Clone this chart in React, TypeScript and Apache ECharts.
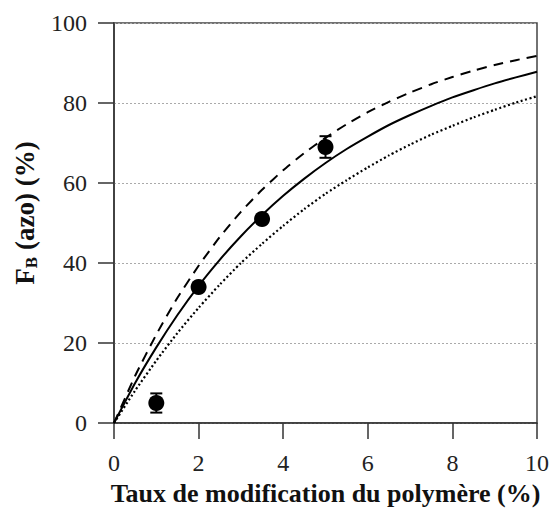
import React, { useEffect, useRef } from "react";
import * as echarts from "echarts";

const xCurve = [0, 0.5, 1, 1.5, 2, 2.5, 3, 3.5, 4, 4.5, 5, 5.5, 6, 6.5, 7, 7.5, 8, 8.5, 9, 9.5, 10];
const solidCurve = [0, 10.0, 18.9, 27.0, 34.3, 40.8, 46.7, 52.0, 56.8, 61.1, 65.0, 68.5, 71.6, 74.5, 77.0, 79.3, 81.4, 83.2, 84.9, 86.4, 87.8];
const dashedCurve = [0, 11.8, 22.1, 31.3, 39.3, 46.5, 52.8, 58.3, 63.2, 67.5, 71.3, 74.7, 77.7, 80.3, 82.6, 84.7, 86.5, 88.1, 89.5, 90.7, 91.8];
const dottedCurve = [0, 8.1, 15.6, 22.5, 28.8, 34.6, 40.0, 44.8, 49.3, 53.5, 57.3, 60.7, 63.9, 66.9, 69.6, 72.1, 74.3, 76.4, 78.3, 80.1, 81.7];

const xPoints = [1, 2, 3.5, 5];
const yPoints = [5, 34, 51, 69];
const yErrors = [2.4, 1, 1, 2.7];

const xTicks = [0, 2, 4, 6, 8, 10];
const yTicks = [0, 20, 40, 60, 80, 100];

const FONT = "Liberation Serif";

export default function App() {
  const ref = useRef<HTMLDivElement>(null);
  useEffect(() => {
    if (!ref.current) return;
    const chart = echarts.init(ref.current, null, { renderer: "svg" });
    const pair = (ys: number[]) => xCurve.map((x, i) => [x, ys[i]]);
    const lineSeries = (name: string, ys: number[], type: any, width: number) => ({
      name,
      type: "line",
      data: pair(ys),
      showSymbol: false,
      symbol: "none",
      smooth: 0.2,
      lineStyle: { color: "#000", width, type },
      z: 3,
    });
    chart.setOption({
      animation: false,
      backgroundColor: "#fff",
      textStyle: { fontFamily: FONT, color: "#222" },
      grid: {
        left: 114,
        right: 16,
        top: 23,
        bottom: 89,
        show: true,
        borderColor: "#444",
        borderWidth: 1.5,
        backgroundColor: "transparent",
      },
      xAxis: {
        type: "value",
        min: 0,
        max: 10,
        interval: 2,
        name: "Taux de modification du polymère (%)",
        nameLocation: "middle",
        nameGap: 57,
        nameTextStyle: { fontFamily: FONT, fontWeight: "bold", fontSize: 26, color: "#111" },
        axisLine: { show: true, lineStyle: { color: "#333", width: 1.5 } },
        axisTick: { show: true, inside: false, length: 16, lineStyle: { color: "#333", width: 1.5 } },
        axisLabel: {
          show: true,
          fontFamily: FONT,
          fontSize: 24,
          color: "#222",
          margin: 28,
          rich: { v: { fontFamily: FONT, fontSize: 24, color: "#222" } },
          formatter: (v: number) => (xTicks.includes(v) ? "{v|" + v + "}" : ""),
        },
        splitLine: { show: false },
      },
      yAxis: {
        type: "value",
        min: 0,
        max: 100,
        interval: 20,
        name: "{b|F}{s|B}{b| (azo) (%)}",
        nameLocation: "middle",
        nameGap: 74,
        nameRotate: 90,
        nameTextStyle: {
          fontFamily: FONT,
          fontWeight: "bold",
          fontSize: 27,
          color: "#111",
          padding: [0, 0, 0, 20],
          rich: {
            b: { fontFamily: FONT, fontWeight: "bold", fontSize: 27, color: "#111", lineHeight: 30 },
            s: { fontFamily: FONT, fontWeight: "bold", fontSize: 17, color: "#111", lineHeight: 30, verticalAlign: "bottom", padding: [12, 0, 0, 0] },
          },
        },
        axisLine: { show: true, lineStyle: { color: "#333", width: 1.5 } },
        axisTick: { show: true, inside: false, length: 16, lineStyle: { color: "#333", width: 1.5 } },
        axisLabel: {
          show: true,
          fontFamily: FONT,
          fontSize: 24,
          color: "#222",
          margin: 27,
          rich: { v: { fontFamily: FONT, fontSize: 24, color: "#222" } },
          formatter: (v: number) => (yTicks.includes(v) ? "{v|" + v + "}" : ""),
        },
        splitLine: {
          show: true,
          lineStyle: { color: "#aaa", width: 1, type: [2, 2] },
        },
      },
      series: [
        lineSeries("dashed", dashedCurve, [10, 7], 2),
        lineSeries("solid", solidCurve, "solid", 2),
        lineSeries("dotted", dottedCurve, [2, 2.5], 2.2),
        {
          name: "errors",
          type: "custom",
          data: xPoints.map((x, i) => [x, yPoints[i], yErrors[i]]),
          renderItem: (params: any, api: any) => {
            const x = api.value(0);
            const y = api.value(1);
            const e = api.value(2);
            const lo = api.coord([x, y - e]);
            const hi = api.coord([x, y + e]);
            const cap = 6;
            const st = { stroke: "#000", lineWidth: 2 };
            return {
              type: "group",
              children: [
                { type: "line", shape: { x1: lo[0], y1: lo[1], x2: hi[0], y2: hi[1] }, style: st },
                { type: "line", shape: { x1: lo[0] - cap, y1: lo[1], x2: lo[0] + cap, y2: lo[1] }, style: st },
                { type: "line", shape: { x1: hi[0] - cap, y1: hi[1], x2: hi[0] + cap, y2: hi[1] }, style: st },
              ],
            };
          },
          z: 4,
        },
        {
          name: "points",
          type: "scatter",
          data: xPoints.map((x, i) => [x, yPoints[i]]),
          symbol: "circle",
          symbolSize: 16,
          itemStyle: { color: "#000", opacity: 1 },
          z: 5,
        },
      ],
    });
    return () => chart.dispose();
  }, []);
  return (
    <div
      ref={ref}
      style={{ position: "fixed", left: 0, top: 0, width: 553, height: 512, background: "#fff" }}
    />
  );
}
